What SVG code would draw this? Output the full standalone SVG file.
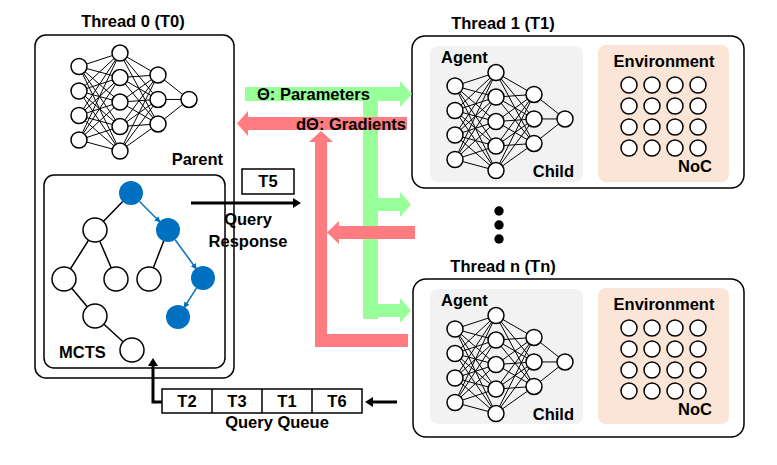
<svg xmlns="http://www.w3.org/2000/svg" width="777" height="465" viewBox="0 0 777 465">
<style>
text{font-family:"Liberation Sans",Arial,sans-serif;font-weight:bold;font-size:16.5px;fill:#000}
.box{fill:#fff;stroke:#000;stroke-width:1.5}
.nnE{stroke:#000;stroke-width:1;fill:none}
.nnN{fill:#fff;stroke:#000;stroke-width:1.5}
.tE{stroke:#000;stroke-width:1.5;fill:none}
.tN{fill:#fff;stroke:#000;stroke-width:1.5}
.tB{fill:#0070C0}
.bE{stroke:#0070C0;stroke-width:1.5;fill:none;marker-end:url(#bh)}
.arr{stroke:#000;stroke-width:3;fill:none;marker-end:url(#ah)}
.g{fill:#99FF99}
.r{fill:#FF7C80}
.agent{fill:#F2F2F2}
.env{fill:#FBE5D6}
.mid{text-anchor:middle}
.end{text-anchor:end}
.dot{fill:#000}
</style>
<defs>
<marker id="ah" viewBox="0 0 8 10" refX="2" refY="5" markerWidth="8" markerHeight="10" markerUnits="userSpaceOnUse" orient="auto" preserveAspectRatio="none"><path d="M0,0L8,5L0,10z" fill="#000"/></marker>
<marker id="bh" viewBox="0 0 6 6" refX="4.5" refY="3" markerWidth="6" markerHeight="6" markerUnits="userSpaceOnUse" orient="auto"><path d="M0,0L6,3L0,6z" fill="#0070C0"/></marker>
<g id="nn">
<path class="nnE" d="M0,-36.75L41,-50.2M0,-36.75L41,-25.7M0,-36.75L41,-1.2M0,-36.75L41,23.3M0,-36.75L41,47.8
M0,-12.25L41,-50.2M0,-12.25L41,-25.7M0,-12.25L41,-1.2M0,-12.25L41,23.3M0,-12.25L41,47.8
M0,12.25L41,-50.2M0,12.25L41,-25.7M0,12.25L41,-1.2M0,12.25L41,23.3M0,12.25L41,47.8
M0,36.75L41,-50.2M0,36.75L41,-25.7M0,36.75L41,-1.2M0,36.75L41,23.3M0,36.75L41,47.8
M41,-50.2L79,-28.3M41,-50.2L79,-3.8M41,-50.2L79,20.7
M41,-25.7L79,-28.3M41,-25.7L79,-3.8M41,-25.7L79,20.7
M41,-1.2L79,-28.3M41,-1.2L79,-3.8M41,-1.2L79,20.7
M41,23.3L79,-28.3M41,23.3L79,-3.8M41,23.3L79,20.7
M41,47.8L79,-28.3M41,47.8L79,-3.8M41,47.8L79,20.7
M79,-28.3L110,-3.8M79,-3.8L110,-3.8M79,20.7L110,-3.8"/>
<circle class="nnN" cx="0" cy="-36.75" r="8"/><circle class="nnN" cx="0" cy="-12.25" r="8"/><circle class="nnN" cx="0" cy="12.25" r="8"/><circle class="nnN" cx="0" cy="36.75" r="8"/>
<circle class="nnN" cx="41" cy="-50.2" r="8"/><circle class="nnN" cx="41" cy="-25.7" r="8"/><circle class="nnN" cx="41" cy="-1.2" r="8"/><circle class="nnN" cx="41" cy="23.3" r="8"/><circle class="nnN" cx="41" cy="47.8" r="8"/>
<circle class="nnN" cx="79" cy="-28.3" r="8"/><circle class="nnN" cx="79" cy="-3.8" r="8"/><circle class="nnN" cx="79" cy="20.7" r="8"/>
<circle class="nnN" cx="110" cy="-3.8" r="8"/>
</g>
<g id="grid">
<circle class="nnN" cx="0" cy="0" r="8"/><circle class="nnN" cx="23" cy="0" r="8"/><circle class="nnN" cx="46" cy="0" r="8"/><circle class="nnN" cx="69" cy="0" r="8"/>
<circle class="nnN" cx="0" cy="21" r="8"/><circle class="nnN" cx="23" cy="21" r="8"/><circle class="nnN" cx="46" cy="21" r="8"/><circle class="nnN" cx="69" cy="21" r="8"/>
<circle class="nnN" cx="0" cy="42" r="8"/><circle class="nnN" cx="23" cy="42" r="8"/><circle class="nnN" cx="46" cy="42" r="8"/><circle class="nnN" cx="69" cy="42" r="8"/>
<circle class="nnN" cx="0" cy="63" r="8"/><circle class="nnN" cx="23" cy="63" r="8"/><circle class="nnN" cx="46" cy="63" r="8"/><circle class="nnN" cx="69" cy="63" r="8"/>
</g>
</defs>
<rect width="777" height="465" fill="#fff"/>

<g id="thread0">
<text x="133" y="27" class="mid">Thread 0 (T0)</text>
<rect class="box" x="35" y="35" width="199" height="343" rx="11"/>
<use href="#nn" x="79" y="103.25"/>
<text x="223" y="165" class="end">Parent</text>
</g>

<g id="mcts">
<rect class="box" x="44" y="175" width="181" height="193" rx="10"/>
<path class="tE" d="M131,193L95,230M95,230L64,279M95,230L116,279M168,230L149,279M64,279L95,316M95,316L132,350"/>
<path class="bE" d="M139.5,201.5L159.5,221.5"/>
<path class="bE" d="M175.1,239.7L195.9,268.3"/>
<path class="bE" d="M196.5,288.1L184.5,306.9"/>
<circle class="tN" cx="95" cy="230" r="12"/>
<circle class="tN" cx="64" cy="279" r="12"/>
<circle class="tN" cx="116" cy="279" r="12"/>
<circle class="tN" cx="149" cy="279" r="12"/>
<circle class="tN" cx="95" cy="316" r="12"/>
<circle class="tN" cx="132" cy="350" r="12"/>
<circle class="tB" cx="131" cy="193" r="12"/>
<circle class="tB" cx="168" cy="230" r="12"/>
<circle class="tB" cx="203" cy="278" r="12"/>
<circle class="tB" cx="178" cy="317" r="12"/>
<text x="59" y="358">MCTS</text>
</g>

<g id="t5">
<rect class="box" x="242" y="169" width="52" height="25"/>
<text x="268" y="187" class="mid">T5</text>
</g>

<g id="thread1">
<text x="503" y="29" class="mid">Thread 1 (T1)</text>
<rect class="box" x="412" y="36" width="332" height="152" rx="13"/>
<rect class="agent" x="430" y="46" width="153" height="136" rx="8"/>
<rect class="env" x="598" y="45" width="131" height="137" rx="8"/>
<use href="#nn" x="455" y="122.75"/>
<use href="#grid" x="629" y="85"/>
<text x="441" y="63">Agent</text>
<text x="574" y="177" class="end">Child</text>
<text x="664" y="67" class="mid">Environment</text>
<text x="712" y="172" class="end">NoC</text>
</g>

<g id="ellipsis">
<circle class="dot" cx="499" cy="211" r="4.7"/>
<circle class="dot" cx="499" cy="225" r="4.7"/>
<circle class="dot" cx="499" cy="239" r="4.7"/>
</g>

<g id="threadn">
<text x="503" y="272" class="mid">Thread n (Tn)</text>
<rect class="box" x="413" y="279" width="331" height="158" rx="13"/>
<rect class="agent" x="430" y="289" width="153" height="135" rx="8"/>
<rect class="env" x="598" y="288" width="131" height="136" rx="8"/>
<use href="#nn" x="455" y="365.75"/>
<use href="#grid" x="629" y="328"/>
<text x="441" y="306">Agent</text>
<text x="574" y="420" class="end">Child</text>
<text x="664" y="310" class="mid">Environment</text>
<text x="712" y="415" class="end">NoC</text>
</g>

<g id="queue">
<rect class="box" x="162" y="389" width="200" height="24"/>
<path d="M212,389V413M262,389V413M312,389V413" stroke="#000" stroke-width="1.5"/>
<text x="187" y="407" class="mid">T2</text>
<text x="237" y="407" class="mid">T3</text>
<text x="287" y="407" class="mid">T1</text>
<text x="337" y="407" class="mid">T6</text>
<text x="277" y="428" class="mid">Query Queue</text>
</g>

<g id="connectors">
<path class="g" d="M245,87H400V81L412,94L400,107V101H245z"/>
<rect class="g" x="363" y="94" width="15" height="225"/>
<path class="g" d="M378,198H400V192L411,204.5L400,217V211H378z"/>
<path class="g" d="M378,304H400V298L411,310.5L400,323V317H378z"/>
<path class="r" d="M407,117H248V111L237,123.5L248,136V130H407z"/>
<path class="r" d="M315,347V142H309L321,131L333,142H327V334H408V347z"/>
<path class="r" d="M415,226H339V221L327,232.5L339,244V239H415z"/>
<text x="257" y="100">Θ: Parameters</text>
<text x="406" y="130" class="end">dΘ: Gradients</text>
<path class="arr" d="M191,203H295"/>
<text x="248" y="225" class="mid">Query</text>
<text x="248" y="247" class="mid">Response</text>
<path class="arr" d="M397,402H371"/>
<path class="arr" d="M162,402H153V364"/>
</g>
</svg>
